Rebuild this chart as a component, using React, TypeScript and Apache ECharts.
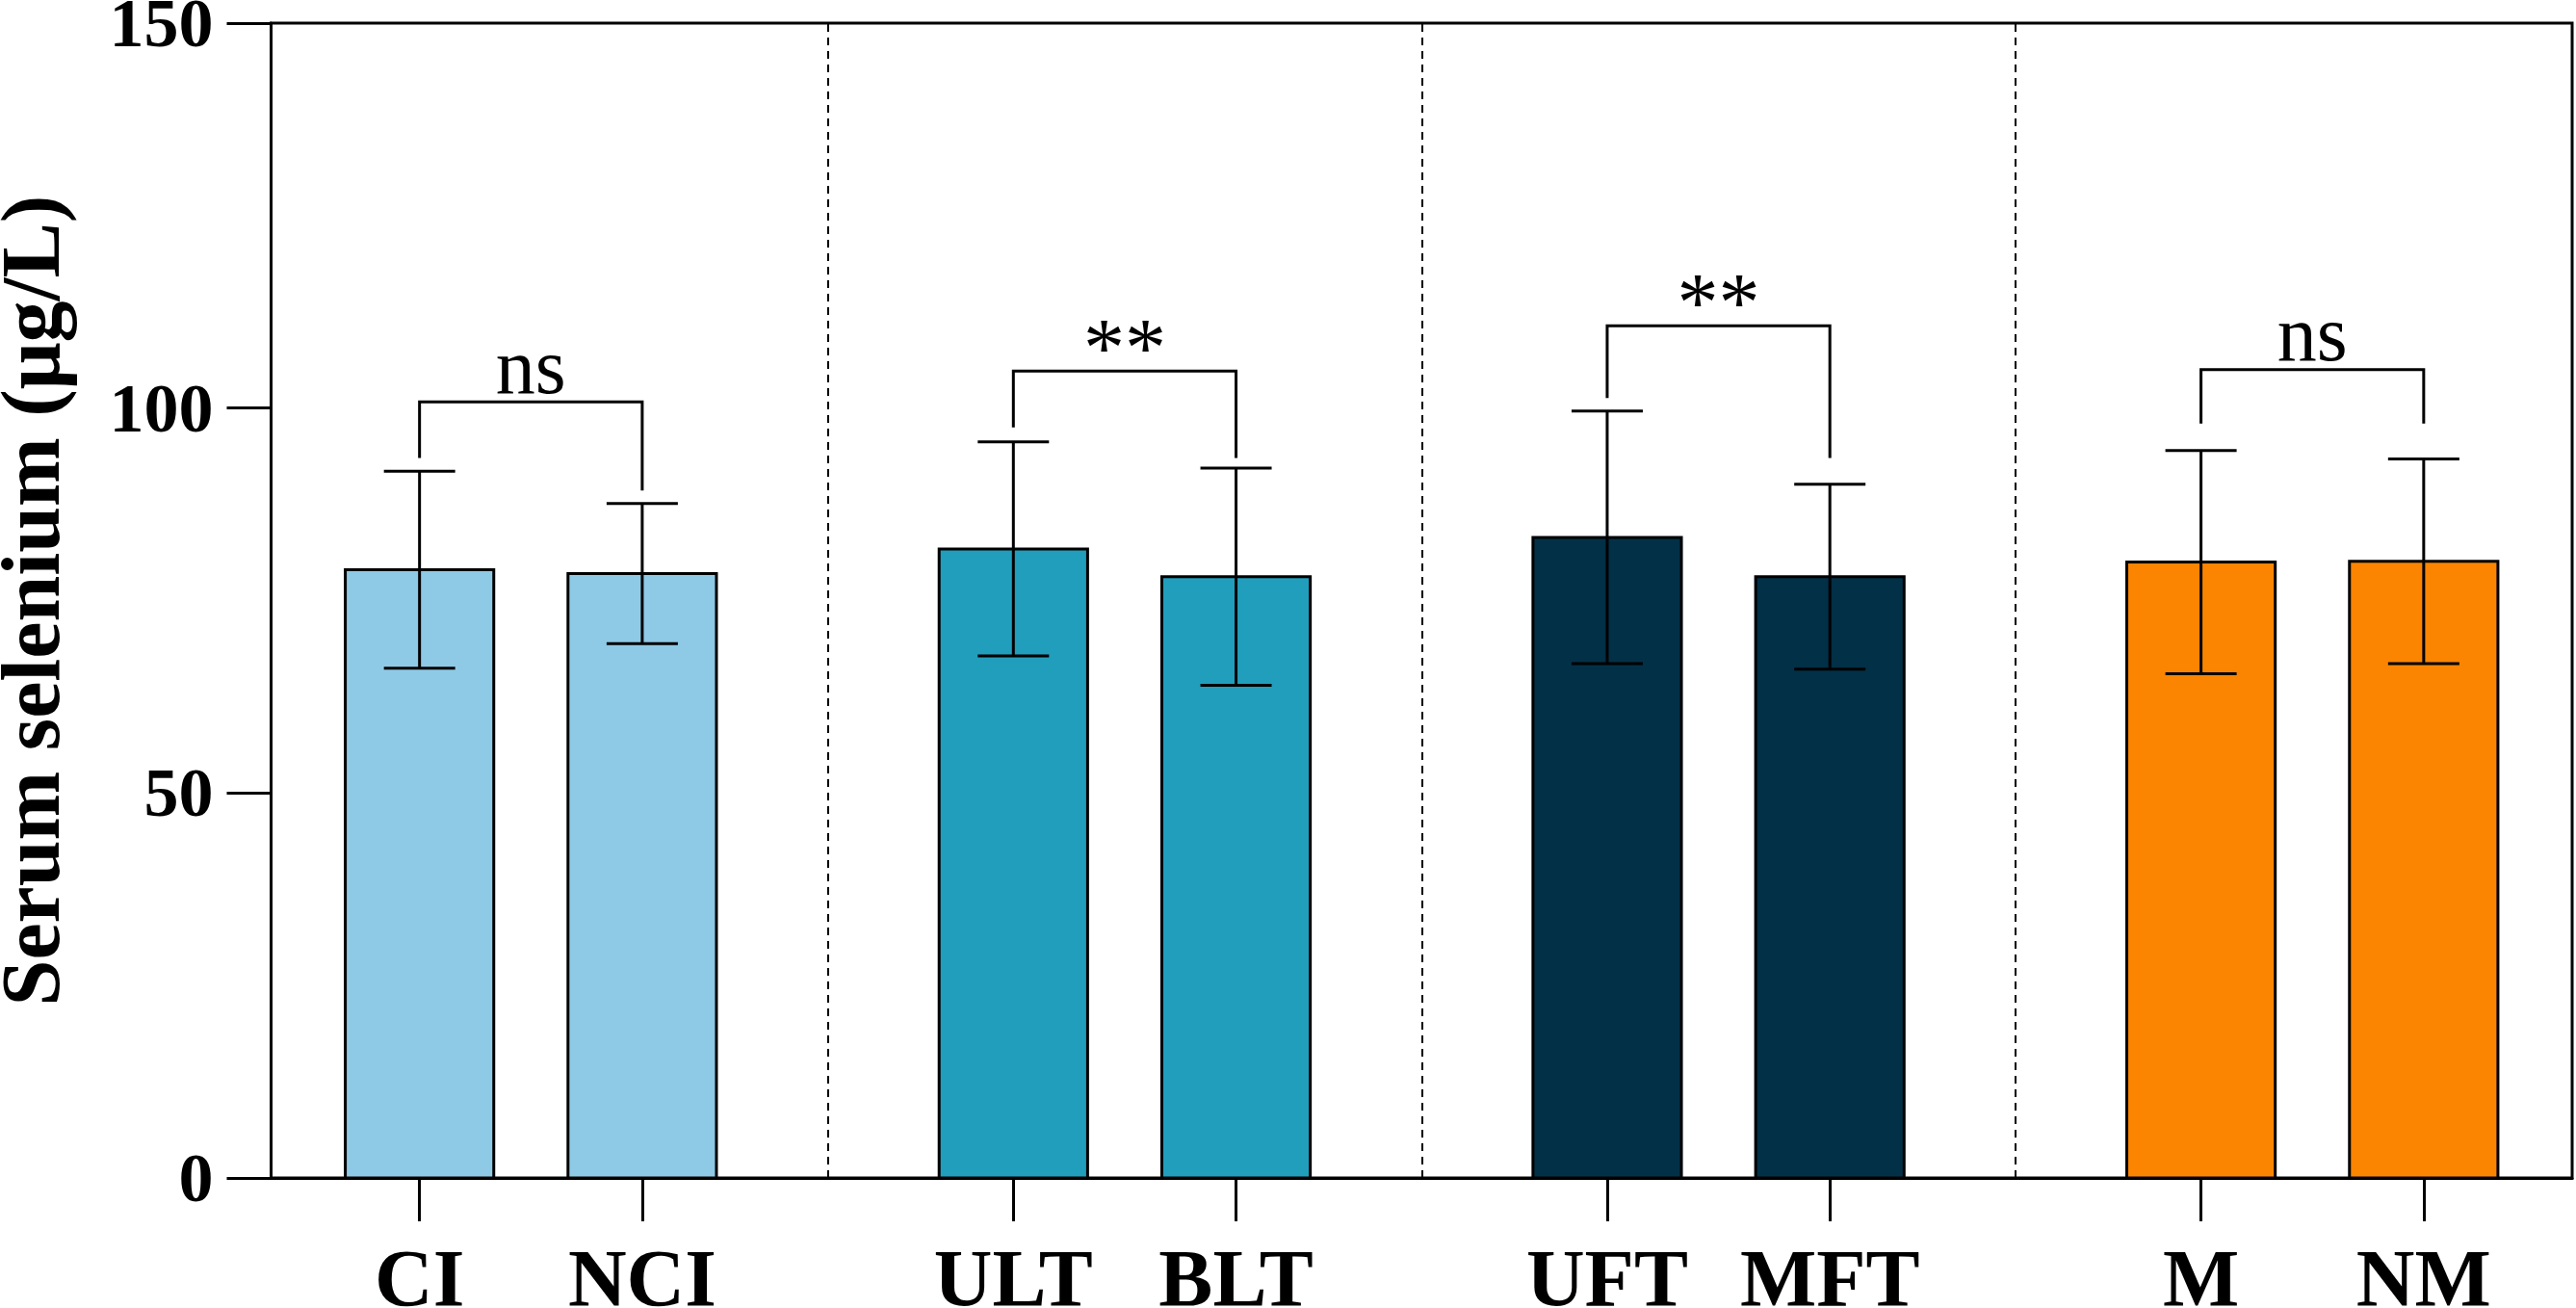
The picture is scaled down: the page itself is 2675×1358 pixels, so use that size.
import React, { useEffect, useRef } from "react";
import * as echarts from "echarts";

const categories = ["CI", "NCI", "ULT", "BLT", "UFT", "MFT", "M", "NM"];
const positions = [2, 5, 10, 13, 18, 21, 26, 29];
const means = [79.0, 78.5, 81.7, 78.1, 83.2, 78.1, 80.0, 80.1];
const sds = [12.8, 9.1, 13.9, 14.1, 16.4, 12.0, 14.5, 13.3];
const groupOf = [0, 0, 1, 1, 2, 2, 3, 3];
const groupColors = ["#8ECAE6", "#219EBC", "#023047", "#FB8500"];
const separators = [7.5, 15.5, 23.5];
const yTicks = [0, 50, 100, 150];

const bracketPairs = [[0, 1], [2, 3], [4, 5], [6, 7]];
const bracketY = [100.8, 104.8, 110.7, 105.0];
const bracketLeftEnd = [93.5, 97.5, 101.3, 98.0];
const bracketRightEnd = [89.3, 93.5, 93.5, 98.0];
const bracketLabels = ["ns", "**", "**", "ns"];

const FONT = "'Liberation Serif', 'Times New Roman', serif";

export default function App() {
  const ref = useRef<HTMLDivElement>(null);
  useEffect(() => {
    document.body.style.margin = "0";
    if (!ref.current) return;
    const chart = echarts.init(ref.current, undefined, { renderer: "svg" });

    const barData = positions.map((p, i) => [p, means[i]]);
    const errData = positions.map((p, i) => [p, means[i] - sds[i], means[i] + sds[i]]);
    const brData = bracketPairs.map((pr, i) => [
      positions[pr[0]],
      positions[pr[1]],
      bracketY[i],
      bracketLeftEnd[i],
      bracketRightEnd[i],
    ]);

    const option: any = {
      animation: false,
      textStyle: { fontFamily: FONT },
      grid: {
        left: 281.5,
        right: 4,
        top: 24,
        bottom: 135,
        containLabel: false,
        outerBoundsMode: "none",
        show: true,
        borderColor: "#000",
        borderWidth: 3,
        backgroundColor: "transparent",
      },
      xAxis: {
        type: "value",
        min: 0,
        max: 31,
        splitLine: { show: false },
        axisLine: { show: true, lineStyle: { color: "#000", width: 3 } },
        axisTick: {
          show: true,
          customValues: positions,
          length: 45,
          lineStyle: { color: "#000", width: 3 },
        },
        axisLabel: {
          customValues: positions,
          formatter: (v: number) => categories[positions.indexOf(v)] ?? "",
          fontSize: 84,
          fontWeight: "bold",
          color: "#000",
          fontFamily: FONT,
          margin: 62,
        },
      },
      yAxis: {
        type: "value",
        min: 0,
        max: 150,
        interval: 50,
        name: "Serum selenium (μg/L)",
        nameLocation: "middle",
        nameGap: 207,
        nameTextStyle: { fontSize: 86, fontWeight: "bold", color: "#000", fontFamily: FONT },
        splitLine: { show: false },
        axisLine: { show: true, lineStyle: { color: "#000", width: 3 } },
        axisTick: { show: true, length: 46, lineStyle: { color: "#000", width: 3 } },
        axisLabel: {
          customValues: yTicks,
          fontSize: 72,
          fontWeight: "bold",
          color: "#000",
          fontFamily: FONT,
          margin: 60,
        },
      },
      series: [
        {
          type: "line",
          data: [],
          markLine: {
            silent: true,
            symbol: "none",
            label: { show: false },
            lineStyle: { color: "#000", width: 2, type: [8, 6] },
            data: separators.map((x) => ({ xAxis: x })),
          },
        },
        {
          type: "custom",
          clip: false,
          data: barData,
          renderItem: (params: any, api: any) => {
            const p = api.value(0);
            const m = api.value(1);
            const tl = api.coord([p - 1, m]);
            const br = api.coord([p + 1, 0]);
            return {
              type: "rect",
              shape: { x: tl[0], y: tl[1], width: br[0] - tl[0], height: br[1] - tl[1] },
              style: {
                fill: groupColors[groupOf[params.dataIndex]],
                stroke: "#000",
                lineWidth: 3,
              },
            };
          },
        },
        {
          type: "custom",
          clip: false,
          data: errData,
          renderItem: (params: any, api: any) => {
            const p = api.value(0);
            const lo = api.value(1);
            const hi = api.value(2);
            const a = api.coord([p, lo]);
            const b = api.coord([p, hi]);
            const l1 = api.coord([p - 0.48, hi]);
            const r1 = api.coord([p + 0.48, hi]);
            const l2 = api.coord([p - 0.48, lo]);
            const r2 = api.coord([p + 0.48, lo]);
            const st = { stroke: "#000", lineWidth: 3 };
            return {
              type: "group",
              children: [
                { type: "line", shape: { x1: a[0], y1: a[1], x2: b[0], y2: b[1] }, style: st },
                { type: "line", shape: { x1: l1[0], y1: l1[1], x2: r1[0], y2: r1[1] }, style: st },
                { type: "line", shape: { x1: l2[0], y1: l2[1], x2: r2[0], y2: r2[1] }, style: st },
              ],
            };
          },
        },
        {
          type: "custom",
          clip: false,
          data: brData,
          renderItem: (params: any, api: any) => {
            const xl = api.value(0);
            const xr = api.value(1);
            const y = api.value(2);
            const le = api.value(3);
            const re = api.value(4);
            const p1 = api.coord([xl, le]);
            const p2 = api.coord([xl, y]);
            const p3 = api.coord([xr, y]);
            const p4 = api.coord([xr, re]);
            const label = bracketLabels[params.dataIndex];
            const isStar = label !== "ns";
            return {
              type: "group",
              children: [
                {
                  type: "polyline",
                  shape: { points: [p1, p2, p3, p4] },
                  style: { stroke: "#000", lineWidth: 3, fill: "none" },
                },
                {
                  type: "text",
                  x: (p2[0] + p3[0]) / 2,
                  y: p2[1] + (isStar ? 19 : 4),
                  style: {
                    text: label,
                    fontSize: isStar ? 86 : 82,
                    fontFamily: FONT,
                    fill: "#000",
                    align: "center",
                    verticalAlign: "bottom",
                  },
                },
              ],
            };
          },
        },
      ],
    };
    chart.setOption(option);
    return () => chart.dispose();
  }, []);
  return <div ref={ref} style={{ width: 2675, height: 1358 }} />;
}
